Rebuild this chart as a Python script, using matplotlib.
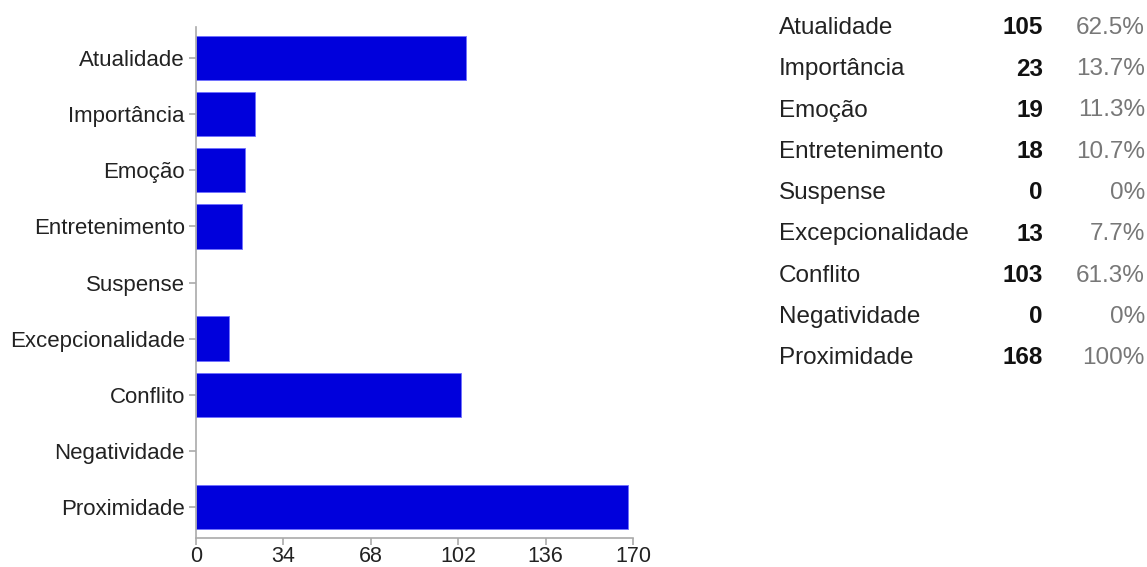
import matplotlib.pyplot as plt

# respostas por critério de noticiabilidade
categorias = ['Atualidade', 'Importância', 'Emoção', 'Entretenimento', 'Suspense',
              'Excepcionalidade', 'Conflito', 'Negatividade', 'Proximidade']
contagens = [105, 23, 19, 18, 0, 13, 103, 0, 168]
percentuais = ['62.5%', '13.7%', '11.3%', '10.7%', '0%', '7.7%', '61.3%', '0%', '100%']
ticks_x = [0, 34, 68, 102, 136, 170]

plt.rcParams['font.family'] = ['Liberation Sans', 'DejaVu Sans']

W, H = 1147, 567
fig = plt.figure(figsize=(W / 100, H / 100), dpi=100)

# eixo em pixels: x de 196 a 633, y de 27 a 538
ax = fig.add_axes([196 / W, (H - 538) / H, 437 / W, 511 / H])

pos = list(range(len(categorias)))
# barras com valor zero ficam sem contorno
bordas = [0.6 if c > 0 else 0 for c in contagens]
ax.barh(pos, contagens, height=0.79, color='#0000dc', edgecolor='#7070ff', linewidth=bordas)

ax.set_ylim(len(categorias) - 0.45, -0.55)
ax.set_xlim(0, 170)
ax.set_yticks(pos)
ax.set_yticklabels(categorias)
ax.set_xticks(ticks_x)

for lado in ['top', 'right']:
    ax.spines[lado].set_visible(False)
for lado in ['left', 'bottom']:
    ax.spines[lado].set_color('#aaaaaa')
    ax.spines[lado].set_linewidth(1.2)

ax.tick_params(axis='both', colors='#aaaaaa', labelcolor='#222222',
               length=5, width=1.2)
ax.tick_params(axis='y', pad=3, labelsize=16)
ax.tick_params(axis='x', pad=1, labelsize=15.5)

# tabela de valores à direita
for i, (nome, n, p) in enumerate(zip(categorias, contagens, percentuais)):
    y = 1 - (28 + i * 41.25) / H
    fig.text(779 / W, y, nome, fontsize=17.5, color='#222222', va='center', ha='left')
    fig.text(1043 / W, y, str(n), fontsize=17.5, color='#111111', fontweight='bold',
             va='center', ha='right')
    fig.text(1145 / W, y, p, fontsize=17.5, color='#777777', va='center', ha='right')

fig.savefig('out.png', dpi=100)
